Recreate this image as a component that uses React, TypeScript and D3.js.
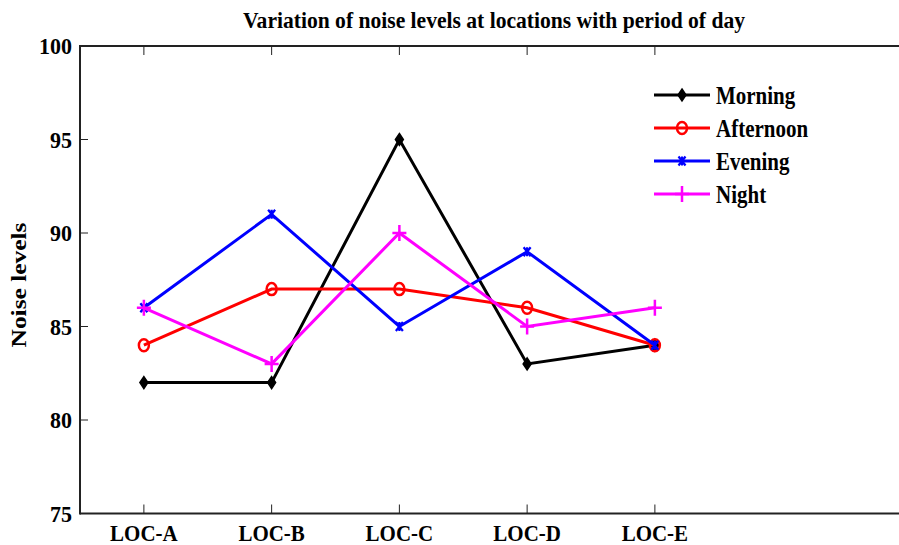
import React, { useEffect, useRef } from 'react';
import * as d3 from 'd3';

// Chart data
const locations = ['LOC-A', 'LOC-B', 'LOC-C', 'LOC-D', 'LOC-E'];
const morning = [82, 82, 95, 83, 84];
const afternoon = [84, 87, 87, 86, 84];
const evening = [86, 91, 85, 89, 84];
const night = [86, 83, 90, 85, 86];
const yTicks = [75, 80, 85, 90, 95, 100];

const series = [
  { name: 'Morning', values: morning, color: '#000000', marker: 'diamond' },
  { name: 'Afternoon', values: afternoon, color: '#ff0000', marker: 'circle' },
  { name: 'Evening', values: evening, color: '#0000ff', marker: 'x' },
  { name: 'Night', values: night, color: '#ff00ff', marker: 'plus' },
];

const FONT = '"Liberation Serif", "Times New Roman", serif';

const App = () => {
  const ref = useRef<SVGSVGElement>(null);

  useEffect(() => {
    const width = 899;
    const height = 545;
    const left = 80;
    const top = 46;
    const bottom = 513.5;
    const step = 127.75;

    const svg = d3.select(ref.current);
    svg.selectAll('*').remove();
    svg.attr('width', width).attr('height', height).attr('viewBox', [0, 0, width, height]);

    const x = d3.scaleLinear().domain([0.5, 7.5]).range([left, left + 7 * step]);
    const y = d3.scaleLinear().domain([75, 100]).range([bottom, top]);

    svg.append('rect').attr('width', width).attr('height', height).attr('fill', '#fff');

    // stretched bold text, like the original export
    const label = (tx, ty, str, size, anchor, sy = 1.15) =>
      svg.append('text')
        .attr('transform', `translate(${tx},${ty}) scale(1,${sy})`)
        .attr('text-anchor', anchor)
        .attr('font-family', FONT)
        .attr('font-weight', 'bold')
        .attr('font-size', size)
        .attr('fill', '#000')
        .text(str);

    // axes box
    const axisG = svg.append('g').attr('stroke', '#222').attr('fill', 'none');
    axisG.append('line').attr('x1', left).attr('x2', width + 2).attr('y1', top).attr('y2', top).attr('stroke-width', 2);
    axisG.append('line').attr('x1', left).attr('x2', width + 2).attr('y1', bottom).attr('y2', bottom).attr('stroke-width', 2);
    axisG.append('line').attr('x1', left).attr('x2', left).attr('y1', top - 1).attr('y2', bottom + 1).attr('stroke-width', 2);

    // x ticks
    locations.forEach((loc, i) => {
      const xx = x(i + 1);
      axisG.append('line').attr('x1', xx).attr('x2', xx).attr('y1', bottom).attr('y2', bottom - 9).attr('stroke-width', 1);
      axisG.append('line').attr('x1', xx).attr('x2', xx).attr('y1', top).attr('y2', top + 9).attr('stroke-width', 1);
      label(xx, 541, loc, 21, 'middle', 1.1);
    });

    // y ticks
    yTicks.forEach((t) => {
      const yy = y(t);
      axisG.append('line').attr('x1', left).attr('x2', left + 8).attr('y1', yy).attr('y2', yy).attr('stroke-width', 1);
      label(72, yy + 8, String(t), 22, 'end', 1.08);
    });

    // title
    svg.append('text')
      .attr('transform', 'translate(494,28) scale(1,1.12)')
      .attr('text-anchor', 'middle')
      .attr('font-family', FONT)
      .attr('font-weight', 'bold')
      .attr('font-size', 20)
      .attr('textLength', 502)
      .attr('lengthAdjust', 'spacingAndGlyphs')
      .text('Variation of noise levels at locations with period of day');

    // y label
    svg.append('text')
      .attr('transform', 'translate(26,285) rotate(-90)')
      .attr('text-anchor', 'middle')
      .attr('font-family', FONT)
      .attr('font-weight', 'bold')
      .attr('font-size', 20)
      .attr('textLength', 125)
      .attr('lengthAdjust', 'spacingAndGlyphs')
      .text('Noise levels');

    const drawMarker = (g, kind, cx, cy, color) => {
      if (kind === 'diamond') {
        g.append('path')
          .attr('d', `M${cx},${cy - 6}L${cx + 4},${cy}L${cx},${cy + 6}L${cx - 4},${cy}Z`)
          .attr('fill', color).attr('stroke', color).attr('stroke-width', 1.5);
      } else if (kind === 'circle') {
        g.append('ellipse').attr('cx', cx).attr('cy', cy).attr('rx', 5).attr('ry', 6)
          .attr('fill', 'none').attr('stroke', color).attr('stroke-width', 2.5);
      } else if (kind === 'x') {
        g.append('path')
          .attr('d', `M${cx - 3.5},${cy - 4.5}L${cx + 3.5},${cy + 4.5}M${cx - 3.5},${cy + 4.5}L${cx + 3.5},${cy - 4.5}M${cx},${cy - 4.5}L${cx},${cy + 4.5}`)
          .attr('stroke', color).attr('stroke-width', 2.2).attr('fill', 'none');
      } else {
        g.append('path')
          .attr('d', `M${cx - 7},${cy}L${cx + 7},${cy}M${cx},${cy - 8}L${cx},${cy + 8}`)
          .attr('stroke', color).attr('stroke-width', 2.5).attr('fill', 'none');
      }
    };

    const line = d3.line<number>().x((_, i) => x(i + 1)).y((d) => y(d));

    series.forEach((s) => {
      const g = svg.append('g');
      g.append('path')
        .attr('d', line(s.values))
        .attr('fill', 'none')
        .attr('stroke', s.color)
        .attr('stroke-width', 3);
      s.values.forEach((v, i) => drawMarker(g, s.marker, x(i + 1), y(v), s.color));
    });

    // legend
    const legendY = [95, 128, 161, 194];
    series.forEach((s, i) => {
      const g = svg.append('g');
      const ly = legendY[i];
      g.append('line').attr('x1', 654).attr('x2', 710).attr('y1', ly).attr('y2', ly)
        .attr('stroke', s.color).attr('stroke-width', 3);
      drawMarker(g, s.marker, 682, ly, s.color);
      label(716, ly + 9, s.name, 21, 'start', 1.15);
    });
  }, []);

  return (
    <div>
      <svg ref={ref} style={{ position: 'absolute', left: 0, top: 0 }}></svg>
    </div>
  );
};

export default App;
